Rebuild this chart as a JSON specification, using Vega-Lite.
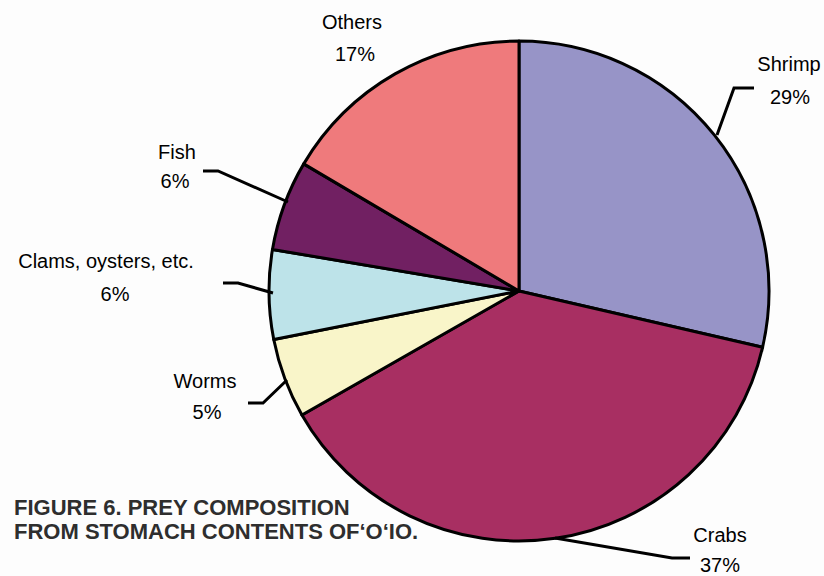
{
  "$schema": "https://vega.github.io/schema/vega-lite/v6.json",
  "width": 824,
  "height": 576,
  "padding": 0,
  "autosize": {"type": "none"},
  "background": "#fdfdfd",
  "config": {"view": {"stroke": null}, "font": "Liberation Sans"},
  "datasets": {
    "slices": [
      {"prey": "Shrimp", "share": 28.6, "order": 1},
      {"prey": "Crabs", "share": 38.1, "order": 2},
      {"prey": "Worms", "share": 5.15, "order": 3},
      {"prey": "Clams, oysters, etc.", "share": 5.76, "order": 4},
      {"prey": "Fish", "share": 5.83, "order": 5},
      {"prey": "Others", "share": 16.5, "order": 6}
    ],
    "leaders": [
      {"prey": "Shrimp", "seq": 1, "u": 0.792, "v": 0.624},
      {"prey": "Shrimp", "seq": 2, "u": 0.86, "v": 0.812},
      {"prey": "Shrimp", "seq": 3, "u": 0.94, "v": 0.812},
      {"prey": "Crabs", "seq": 1, "u": 0.144, "v": -0.988},
      {"prey": "Crabs", "seq": 2, "u": 0.612, "v": -1.068},
      {"prey": "Crabs", "seq": 3, "u": 0.684, "v": -1.068},
      {"prey": "Worms", "seq": 1, "u": -0.928, "v": -0.356},
      {"prey": "Worms", "seq": 2, "u": -1.024, "v": -0.448},
      {"prey": "Worms", "seq": 3, "u": -1.084, "v": -0.448},
      {"prey": "Clams", "seq": 1, "u": -0.984, "v": -0.008},
      {"prey": "Clams", "seq": 2, "u": -1.124, "v": 0.032},
      {"prey": "Clams", "seq": 3, "u": -1.184, "v": 0.032},
      {"prey": "Fish", "seq": 1, "u": -0.924, "v": 0.356},
      {"prey": "Fish", "seq": 2, "u": -1.204, "v": 0.48},
      {"prey": "Fish", "seq": 3, "u": -1.264, "v": 0.48}
    ],
    "labels": [
      {"label": "Shrimp", "u": 1.08, "v": 0.904},
      {"label": "29%", "u": 1.084, "v": 0.772},
      {"label": "Others", "u": -0.668, "v": 1.072},
      {"label": "17%", "u": -0.656, "v": 0.944},
      {"label": "Fish", "u": -1.368, "v": 0.552},
      {"label": "6%", "u": -1.376, "v": 0.436},
      {"label": "Clams, oysters, etc.", "u": -1.652, "v": 0.116},
      {"label": "6%", "u": -1.616, "v": -0.016},
      {"label": "Worms", "u": -1.256, "v": -0.364},
      {"label": "5%", "u": -1.248, "v": -0.488},
      {"label": "Crabs", "u": 0.804, "v": -0.98},
      {"label": "37%", "u": 0.804, "v": -1.1}
    ],
    "title": [
      {"line": "FIGURE 6. PREY COMPOSITION", "u": -2.02, "v": -0.868},
      {"line": "FROM STOMACH CONTENTS OF‘O‘IO.", "u": -2.02, "v": -0.964}
    ]
  },
  "encoding": {
    "x": {"type": "quantitative", "scale": {"domain": [-2.076, 1.22], "nice": false, "zero": false}, "axis": null},
    "y": {"type": "quantitative", "scale": {"domain": [-1.14, 1.164], "nice": false, "zero": false}, "axis": null}
  },
  "layer": [
    {
      "data": {"name": "slices"},
      "mark": {"type": "arc", "outerRadius": 250, "stroke": "black", "strokeWidth": 3, "strokeJoin": "round"},
      "encoding": {
        "x": {"datum": 0, "type": "quantitative"},
        "y": {"datum": 0, "type": "quantitative"},
        "theta": {"field": "share", "type": "quantitative", "stack": true},
        "order": {"field": "order", "type": "quantitative"},
        "color": {
          "field": "prey",
          "type": "nominal",
          "legend": null,
          "scale": {
            "domain": ["Shrimp", "Crabs", "Worms", "Clams, oysters, etc.", "Fish", "Others"],
            "range": ["#9794c7", "#a82f62", "#f9f5c9", "#bde3e9", "#712062", "#ef7a7c"]
          }
        }
      }
    },
    {
      "data": {"name": "leaders"},
      "mark": {"type": "line", "color": "black", "strokeWidth": 3, "strokeJoin": "miter"},
      "encoding": {
        "x": {"field": "u", "type": "quantitative"},
        "y": {"field": "v", "type": "quantitative"},
        "detail": {"field": "prey", "type": "nominal"},
        "order": {"field": "seq", "type": "quantitative"}
      }
    },
    {
      "data": {"name": "labels"},
      "mark": {"type": "text", "fontSize": 20, "color": "black", "align": "center", "baseline": "middle"},
      "encoding": {
        "x": {"field": "u", "type": "quantitative"},
        "y": {"field": "v", "type": "quantitative"},
        "text": {"field": "label", "type": "nominal"}
      }
    },
    {
      "data": {"name": "title"},
      "mark": {"type": "text", "fontSize": 22, "fontWeight": "bold", "color": "#2e2e2e", "align": "left", "baseline": "middle"},
      "encoding": {
        "x": {"field": "u", "type": "quantitative"},
        "y": {"field": "v", "type": "quantitative"},
        "text": {"field": "line", "type": "nominal"}
      }
    }
  ]
}
